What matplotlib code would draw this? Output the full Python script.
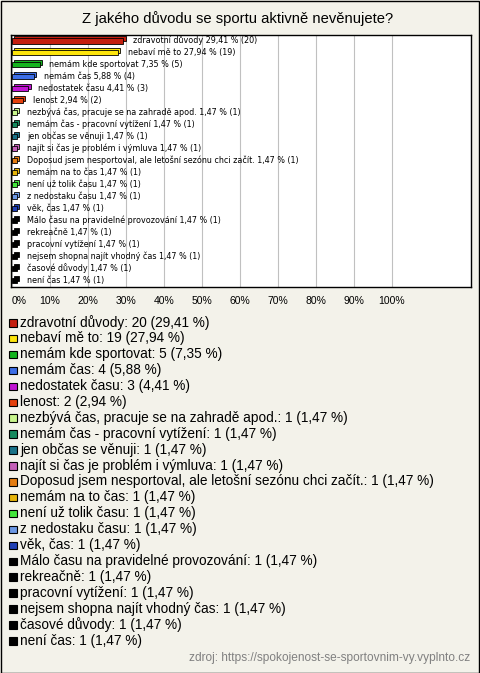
import matplotlib
matplotlib.use('Agg')
import matplotlib.pyplot as plt
from matplotlib.patches import Rectangle

# data
labels = [
    "zdravotní důvody", "nebaví mě to", "nemám kde sportovat", "nemám čas",
    "nedostatek času", "lenost", "nezbývá čas, pracuje se na zahradě apod.",
    "nemám čas - pracovní vytížení", "jen občas se věnuji",
    "najít si čas je problém i výmluva",
    "Doposud jsem nesportoval, ale letošní sezónu chci začít.",
    "nemám na to čas", "není už tolik času", "z nedostaku času", "věk, čas",
    "Málo času na pravidelné provozování", "rekreačně", "pracovní vytížení",
    "nejsem shopna najít vhodný čas", "časové důvody", "není čas",
]
counts = [20, 19, 5, 4, 3, 2, 1, 1, 1, 1, 1, 1, 1, 1, 1, 1, 1, 1, 1, 1, 1]
percents = [29.41, 27.94, 7.35, 5.88, 4.41, 2.94, 1.47, 1.47, 1.47, 1.47, 1.47,
            1.47, 1.47, 1.47, 1.47, 1.47, 1.47, 1.47, 1.47, 1.47, 1.47]
colors = ['#c41e0e', '#fde50c', '#14b41e', '#3d6ee6', '#c014d2', '#e4400c',
          '#c8f58c', '#168a5e', '#1a7288', '#c460b8', '#e47c10', '#e6b40a',
          '#44e63c', '#6c98e4', '#2040b4',
          '#000000', '#000000', '#000000', '#000000', '#000000', '#000000']
xticks = [0, 10, 20, 30, 40, 50, 60, 70, 80, 90, 100]
title = "Z jakého důvodu se sportu aktivně nevěnujete?"
source = "zdroj: https://spokojenost-se-sportovnim-vy.vyplnto.cz"

def fmt(v):
    return f"{v:.2f}".replace('.', ',')

W, H = 480, 673
BG = '#f3f2ea'
plt.rcParams['font.family'] = ['Liberation Sans', 'DejaVu Sans']

fig = plt.figure(figsize=(W / 100, H / 100), dpi=100, facecolor=BG)

# frame around the whole image
fig.patches.append(Rectangle((0.5 / W, 0.5 / H), 1 - 1.5 / W, 1 - 1.5 / H,
                             transform=fig.transFigure, fill=False,
                             edgecolor='black', lw=1))

fig.text(237.5 / W, 1 - 19 / H, title, ha='center', va='center', fontsize=10.6)

# --- bar chart ---
ax_l, ax_r, ax_t, ax_b = 10.5, 470.7, 35, 286.7
ax = fig.add_axes([ax_l / W, 1 - ax_b / H, (ax_r - ax_l) / W, (ax_b - ax_t) / H])
ax.set_facecolor('white')
ax.set_xlim(-0.32, 120.8)
n = len(labels)
ax.set_ylim(n - 0.5, -0.5)

ypos = list(range(n))
bh = 0.42
dx, dy = 0.55, 0.17
# back copy for the 3d look, then the front face
ax.barh([y - dy for y in ypos], percents, left=dx, height=bh, color=colors,
        edgecolor='black', linewidth=0.6, zorder=2)
ax.barh(ypos, percents, height=bh, color=colors, edgecolor='black',
        linewidth=0.6, zorder=3)

for y, lab, p, c in zip(ypos, labels, percents, counts):
    ax.annotate(f"{lab} {fmt(p)} % ({c})", (p + dx, y - 0.05),
                xytext=(5.5, 0), textcoords='offset points', ha='left',
                va='center', fontsize=5.8, family=['DejaVu Sans'], zorder=4)

ax.set_xticks(xticks)
ax.set_xticklabels([f"{t}%" for t in xticks], fontsize=7.5)
ax.get_xticklabels()[0].set_ha('left')
ax.tick_params(axis='x', length=0, pad=7)
ax.set_yticks([])
ax.grid(axis='x', color='#c0c0c0', lw=0.8, zorder=0)
ax.set_axisbelow(True)
for s in ax.spines.values():
    s.set_color('black')
    s.set_linewidth(1)

# --- legend ---
y0, step = 322.5, 15.9
for i, (lab, c, p, col) in enumerate(zip(labels, counts, percents, colors)):
    yc = y0 + i * step
    fig.patches.append(Rectangle((9 / W, 1 - (yc + 4) / H), 7.5 / W, 7.5 / H,
                                 transform=fig.transFigure, facecolor=col,
                                 edgecolor='black', lw=0.8))
    fig.text(20 / W, 1 - yc / H, f"{lab}: {c} ({fmt(p)} %)", ha='left',
             va='center', fontsize=9.8)

fig.text(470 / W, 1 - 658 / H, source, ha='right', va='center', fontsize=8.6,
         color='#808080')

fig.savefig('out.png', dpi=100, facecolor=BG)
